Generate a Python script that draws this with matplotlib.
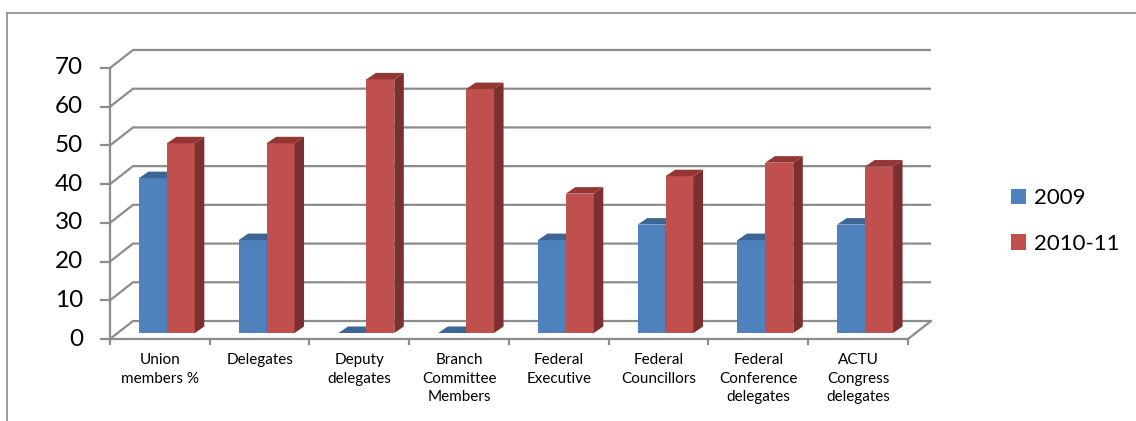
import matplotlib.pyplot as plt
from matplotlib.patches import Polygon, Patch
from matplotlib.lines import Line2D
import numpy as np

categories = ["Union\nmembers %", "Delegates", "Deputy\ndelegates",
              "Branch\nCommittee\nMembers", "Federal\nExecutive",
              "Federal\nCouncillors", "Federal\nConference\ndelegates",
              "ACTU\nCongress\ndelegates"]
series_names = ["2009", "2010-11"]
vals_2009 = [40, 24, 0, 0, 24, 28, 24, 28]
vals_2010 = [49, 49, 65.5, 63, 36, 40.5, 44, 43]
y_ticks = [0, 10, 20, 30, 40, 50, 60, 70]

# colours: front, side, top
blue = ("#4F81BD", "#385D8A", "#3D6596")
red = ("#C0504D", "#7B2F2E", "#943634")
grid_col = "#8C8C8C"

plt.rcParams['font.family'] = ['Lato', 'DejaVu Sans']

fig = plt.figure(figsize=(11.36, 4.21), dpi=100)
ax = fig.add_axes([0, 0, 1, 1])
ax.set_axis_off()

# data coords: one unit per category on x, value units on y
px_cat = 99.75
px_val = 271 / 70
x0_px, y0_px = 110, 339
ax.set_xlim(-x0_px / px_cat, (1136 - x0_px) / px_cat)
ax.set_ylim(-(421 - y0_px) / px_val, y0_px / px_val)

n = len(categories)
DX, DY = 23 / px_cat, 18 / px_val          # wall depth
PX, PY = 7 / px_cat, 6 / px_val            # plane where bars stand
BX, BY = 9.5 / px_cat, 6.5 / px_val        # bar depth
W = 0.28

# back wall gridlines with the diagonal on the side wall
for v in y_ticks:
    ax.plot([0, DX, n + DX], [v, v + DY, v + DY], color=grid_col, lw=1.6,
            solid_capstyle='butt', zorder=1)
    ax.plot([-0.09, 0], [v, v], color=grid_col, lw=1.6, zorder=1)
    ax.text(-0.27, v, str(v), ha='right', va='center', fontsize=17.5)

# floor and front axes
ax.plot([0, n, n + DX], [0, 0, DY], color=grid_col, lw=1.6, zorder=1)
ax.plot([0, 0], [0, y_ticks[-1]], color=grid_col, lw=1.6, zorder=1)
for i in range(n + 1):
    ax.plot([i, i], [0, -1.3], color=grid_col, lw=1.6, zorder=1)


def draw_bar(left, h, cols, z):
    x1, x2 = left + PX, left + PX + W
    yb, yt = PY, PY + h
    ax.bar(x1, h, width=W, bottom=yb, align='edge', color=cols[0],
           linewidth=0, zorder=z)
    ax.add_patch(Polygon([(x2, yb), (x2 + BX, yb + BY), (x2 + BX, yt + BY), (x2, yt)],
                         closed=True, facecolor=cols[1], edgecolor='none', zorder=z))
    ax.add_patch(Polygon([(x1, yt), (x1 + BX, yt + BY), (x2 + BX, yt + BY), (x2, yt)],
                         closed=True, facecolor=cols[2], edgecolor='none', zorder=z))


for i in range(n):
    draw_bar(i + 0.5 - W, vals_2009[i], blue, 3 + 2 * i)
    draw_bar(i + 0.5, vals_2010[i], red, 4 + 2 * i)
    ax.text(i + 0.5, -3.6, categories[i], ha='center', va='top',
            fontsize=11, linespacing=1.42)

# outer frame
fig.add_artist(Line2D([7 / 1136, 1], [1 - 13 / 421, 1 - 13 / 421],
                      transform=fig.transFigure, color="#8C8C8C", lw=1.2))
fig.add_artist(Line2D([7 / 1136, 7 / 1136], [0, 1 - 13 / 421],
                      transform=fig.transFigure, color="#8C8C8C", lw=1.2))

handles = [Patch(facecolor=blue[0]), Patch(facecolor=red[0])]
fig.legend(handles, series_names, loc='center left',
           bbox_to_anchor=(1011 / 1136, 1 - 221 / 421), frameon=False,
           fontsize=16, handlelength=0.68, handleheight=0.68,
           handletextpad=0.35, labelspacing=1.15, borderpad=0, borderaxespad=0)

fig.savefig("out.png", dpi=100)
